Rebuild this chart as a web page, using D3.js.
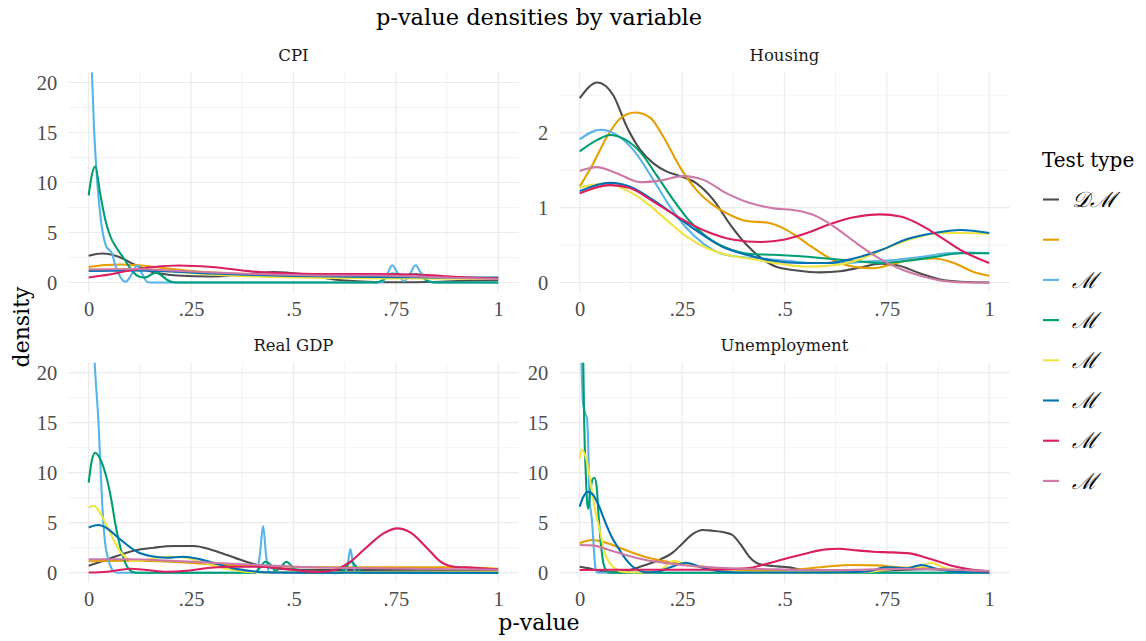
<!DOCTYPE html>
<html>
<head>
<meta charset="utf-8">
<script src="https://cdn.jsdelivr.net/npm/d3@7"></script>
<style>
  html, body { margin: 0; padding: 0; background: #ffffff; }
  svg { display: block; }
  text { font-family: "DejaVu Serif", serif; }
  text.num { font-family: "Liberation Serif", serif; }
</style>
</head>
<body>
<svg id="chart" width="1146" height="641"></svg>
<script>
// Test types (legend order) and their colours
const testTypes = ["\u{1D49F}\u2133", "", "\u2133", "\u2133", "\u2133", "\u2133", "\u2133", "\u2133"];
const testColors = ["#4D4D4D", "#E69F00", "#56B4E9", "#009E73", "#F0E442", "#0072B2", "#DB1E60", "#CC79A7"];

// Facet variables
const variables = ["CPI", "Housing", "Real GDP", "Unemployment"];

// Axis ticks
const xTicks = [0, 0.25, 0.5, 0.75, 1];
const xTickLabels = ["0", ".25", ".5", ".75", "1"];
const capTicks = [0, 5, 10, 15, 20];
const housingTicks = [0, 1, 2];
const densityCap = 20;

// Estimated densities, [p-value, density] per test type (same order as testTypes)
const cpiDensity = [
  [[0,2.67],[0.033,2.9],[0.073,2.57],[0.11,1.83],[0.142,1.23],[0.175,0.9],[0.216,0.7],[0.3,0.6],[0.37,0.75],[0.45,1.05],[0.52,0.85],[0.6,0.3],[0.68,0.08],[0.76,0.02],[0.83,0.05],[0.9,0.15],[1,0.25]],
  [[0,1.55],[0.04,1.75],[0.08,1.8],[0.12,1.72],[0.18,1.45],[0.25,1.15],[0.33,0.95],[0.4,0.8],[0.5,0.62],[0.6,0.55],[0.7,0.5],[0.8,0.48],[0.9,0.45],[1,0.4]],
  [[0,30],[0.005,24],[0.008,21],[0.013,15.5],[0.019,11.2],[0.03,6.2],[0.043,3.6],[0.057,2.9],[0.065,1.7],[0.077,0.57],[0.09,0.07],[0.106,0.9],[0.118,1.7],[0.13,0.9],[0.144,0.03],[0.16,0],[0.7,0],[0.717,0.06],[0.73,0.9],[0.741,1.73],[0.755,0.9],[0.77,0.13],[0.785,0.9],[0.798,1.73],[0.812,0.9],[0.826,0.23],[0.842,0],[1,0]],
  [[0,8.7],[0.008,10.8],[0.016,11.6],[0.028,8.9],[0.041,6.2],[0.053,4.6],[0.069,3.4],[0.086,2.4],[0.102,1.4],[0.118,0.7],[0.134,0.5],[0.142,0.55],[0.155,0.85],[0.165,0.99],[0.178,0.7],[0.192,0.25],[0.207,0.02],[0.22,0],[0.7,0],[0.72,0.3],[0.741,0.9],[0.77,0.75],[0.8,0.85],[0.815,0.5],[0.83,0.1],[0.845,0],[1,0]],
  [[0,1.3],[0.1,1.3],[0.2,1.1],[0.3,0.8],[0.4,0.6],[0.5,0.5],[0.6,0.45],[0.8,0.4],[1,0.35]],
  [[0,1.15],[0.1,1.2],[0.2,1.1],[0.3,0.9],[0.4,0.75],[0.5,0.65],[0.6,0.6],[0.7,0.55],[0.8,0.52],[0.9,0.5],[1,0.5]],
  [[0,0.5],[0.05,0.8],[0.1,1.2],[0.16,1.55],[0.22,1.7],[0.3,1.55],[0.4,1.1],[0.5,0.9],[0.6,0.85],[0.7,0.85],[0.8,0.8],[0.9,0.55],[1,0.4]],
  [[0,1.3],[0.1,1.35],[0.2,1.2],[0.3,1.0],[0.4,0.85],[0.5,0.75],[0.6,0.7],[0.7,0.7],[0.8,0.6],[0.9,0.45],[1,0.35]]
];

const housingDensity = [
  [[0,2.46],[0.043,2.67],[0.082,2.5],[0.115,2.08],[0.148,1.77],[0.18,1.59],[0.213,1.48],[0.245,1.42],[0.286,1.32],[0.327,1.1],[0.368,0.77],[0.408,0.5],[0.44,0.34],[0.48,0.21],[0.53,0.16],[0.588,0.135],[0.636,0.15],[0.685,0.2],[0.734,0.25],[0.775,0.23],[0.832,0.12],[0.88,0.04],[0.93,0.01],[1,0]],
  [[0,1.28],[0.033,1.59],[0.066,1.94],[0.099,2.19],[0.135,2.27],[0.172,2.2],[0.205,1.94],[0.245,1.54],[0.286,1.23],[0.327,1.03],[0.368,0.9],[0.408,0.82],[0.457,0.8],[0.506,0.7],[0.555,0.52],[0.612,0.32],[0.669,0.21],[0.718,0.19],[0.767,0.25],[0.816,0.31],[0.865,0.32],[0.914,0.26],[0.962,0.14],[1,0.09]],
  [[0,1.91],[0.05,2.04],[0.09,1.97],[0.131,1.77],[0.18,1.37],[0.221,1.01],[0.262,0.72],[0.302,0.52],[0.343,0.39],[0.392,0.34],[0.441,0.32],[0.506,0.29],[0.571,0.26],[0.636,0.26],[0.702,0.28],[0.767,0.3],[0.832,0.34],[0.897,0.39],[0.946,0.4],[1,0.39]],
  [[0,1.75],[0.042,1.9],[0.074,1.97],[0.107,1.92],[0.148,1.74],[0.188,1.43],[0.229,1.1],[0.27,0.81],[0.31,0.61],[0.359,0.46],[0.416,0.38],[0.474,0.37],[0.539,0.35],[0.604,0.32],[0.669,0.29],[0.734,0.26],[0.8,0.29],[0.865,0.34],[0.93,0.39],[1,0.39]],
  [[0,1.27],[0.066,1.32],[0.115,1.23],[0.164,1.06],[0.213,0.83],[0.262,0.61],[0.31,0.46],[0.359,0.37],[0.425,0.31],[0.49,0.25],[0.555,0.21],[0.62,0.23],[0.685,0.31],[0.75,0.46],[0.816,0.59],[0.88,0.66],[0.938,0.66],[1,0.65]],
  [[0,1.22],[0.074,1.33],[0.123,1.28],[0.18,1.1],[0.237,0.88],[0.294,0.66],[0.351,0.47],[0.408,0.37],[0.474,0.29],[0.539,0.26],[0.604,0.26],[0.669,0.32],[0.734,0.43],[0.8,0.58],[0.865,0.66],[0.93,0.7],[1,0.66]],
  [[0,1.19],[0.074,1.3],[0.123,1.26],[0.18,1.08],[0.245,0.86],[0.31,0.68],[0.376,0.57],[0.441,0.54],[0.498,0.57],[0.555,0.66],[0.612,0.78],[0.669,0.87],[0.734,0.91],[0.783,0.88],[0.832,0.77],[0.88,0.61],[0.938,0.41],[1,0.26]],
  [[0,1.49],[0.042,1.54],[0.09,1.46],[0.148,1.34],[0.196,1.36],[0.253,1.42],[0.302,1.37],[0.359,1.19],[0.416,1.06],[0.474,0.99],[0.53,0.96],[0.58,0.88],[0.628,0.72],[0.677,0.52],[0.726,0.34],[0.775,0.2],[0.832,0.09],[0.889,0.02],[0.946,0],[1,0]]
];

const gdpDensity = [
  [[0,0.7],[0.029,1.1],[0.069,1.67],[0.11,2.2],[0.159,2.5],[0.208,2.67],[0.257,2.67],[0.297,2.33],[0.338,1.77],[0.379,1.17],[0.419,0.7],[0.46,0.43],[0.517,0.3],[0.6,0.27],[0.68,0.27],[0.8,0.25],[0.9,0.22],[1,0.2]],
  [[0,1.15],[0.1,1.2],[0.2,1.1],[0.3,0.85],[0.4,0.7],[0.5,0.6],[0.6,0.55],[0.7,0.55],[0.8,0.55],[0.9,0.55],[1,0.4]],
  [[0,30],[0.008,26],[0.016,20],[0.024,15],[0.03,9.5],[0.035,5.5],[0.04,3],[0.048,1.3],[0.055,0.5],[0.062,0.1],[0.07,0],[0.4,0],[0.411,0.1],[0.418,1.8],[0.426,4.67],[0.433,1.8],[0.44,0.1],[0.45,0],[0.62,0],[0.627,0.1],[0.633,1.0],[0.639,2.37],[0.645,1.0],[0.651,0.1],[0.66,0],[1,0]],
  [[0,9.0],[0.008,11.3],[0.016,12],[0.029,11.3],[0.041,9.9],[0.049,8.6],[0.057,6.9],[0.065,4.9],[0.077,2.6],[0.09,0.93],[0.106,0.1],[0.12,0],[0.405,0],[0.418,0.5],[0.431,1.1],[0.444,0.8],[0.456,0.2],[0.47,0.6],[0.483,1.1],[0.497,0.6],[0.512,0.05],[0.525,0],[0.615,0],[0.628,0.6],[0.642,1.1],[0.655,0.5],[0.668,0.05],[0.68,0],[1,0]],
  [[0,6.5],[0.012,6.7],[0.029,5.9],[0.045,4.6],[0.061,3.3],[0.077,2.1],[0.094,1.43],[0.11,1.15],[0.134,1.25],[0.165,1.5],[0.191,1.6],[0.232,1.53],[0.273,1.1],[0.314,0.6],[0.354,0.27],[0.395,0.05],[0.45,0.03],[0.6,0.05],[0.8,0.08],[1,0.1]],
  [[0,4.53],[0.024,4.77],[0.045,4.43],[0.069,3.6],[0.094,2.77],[0.118,2.1],[0.151,1.67],[0.191,1.5],[0.232,1.6],[0.273,1.33],[0.314,0.87],[0.354,0.43],[0.395,0.17],[0.436,0.03],[0.5,0.01],[1,0]],
  [[0,0.02],[0.045,0.1],[0.102,0.4],[0.142,0.27],[0.191,0.1],[0.24,0.2],[0.297,0.5],[0.354,0.6],[0.411,0.6],[0.468,0.43],[0.517,0.2],[0.558,0.07],[0.6,0.27],[0.639,1.1],[0.68,2.6],[0.72,3.93],[0.753,4.43],[0.786,4.0],[0.827,2.43],[0.859,1.1],[0.892,0.6],[0.94,0.5],[1,0.33]],
  [[0,1.35],[0.1,1.35],[0.2,1.2],[0.3,1.0],[0.4,0.8],[0.5,0.6],[0.6,0.5],[0.7,0.45],[0.8,0.4],[0.9,0.35],[1,0.3]]
];

const unemploymentDensity = [
  [[0,0.6],[0.023,0.43],[0.047,0.2],[0.08,0.07],[0.112,0.17],[0.153,0.67],[0.194,1.27],[0.227,2.0],[0.251,2.93],[0.275,3.83],[0.3,4.27],[0.324,4.2],[0.357,4.0],[0.373,3.77],[0.394,2.77],[0.414,1.6],[0.438,0.87],[0.471,0.67],[0.512,0.53],[0.544,0.27],[0.6,0.1],[0.68,0.06],[0.75,0.2],[0.85,0.35],[0.95,0.1],[1,0.05]],
  [[0,2.95],[0.031,3.27],[0.064,3.0],[0.096,2.53],[0.129,2.0],[0.17,1.47],[0.218,1.07],[0.275,0.73],[0.34,0.43],[0.406,0.27],[0.479,0.2],[0.536,0.33],[0.6,0.6],[0.667,0.77],[0.724,0.73],[0.78,0.53],[0.846,0.43],[0.927,0.27],[1,0.13]],
  [[0,30],[0.004,22],[0.008,17],[0.013,16],[0.018,15.4],[0.021,12.5],[0.024,7.5],[0.027,6.2],[0.03,5.2],[0.034,2.8],[0.038,0.6],[0.042,0.05],[0.05,0],[1,0]],
  [[0,28],[0.005,25],[0.009,20.5],[0.011,15.1],[0.015,9.8],[0.018,7.1],[0.021,6.4],[0.025,7.8],[0.031,9.3],[0.036,9.5],[0.042,8.4],[0.046,5.8],[0.052,2.8],[0.058,0.93],[0.066,0.17],[0.075,0],[1,0]],
  [[0,11.4],[0.005,12.3],[0.013,11.8],[0.021,10.4],[0.029,8.4],[0.037,6.4],[0.046,4.8],[0.054,3.3],[0.062,1.93],[0.074,0.93],[0.086,0.43],[0.103,0.1],[0.13,0.02],[0.17,0.02],[0.195,0.2],[0.23,1.2],[0.26,0.8],[0.3,0.55],[0.35,0.2],[0.4,0.05],[0.5,0.03],[0.6,0.03],[0.7,0.05],[0.75,0.3],[0.8,0.5],[0.83,0.6],[0.858,1.0],[0.89,0.5],[0.95,0.1],[1,0]],
  [[0,6.6],[0.009,7.6],[0.021,8.1],[0.033,7.77],[0.046,6.77],[0.062,5.1],[0.078,3.6],[0.095,2.43],[0.111,1.43],[0.127,0.7],[0.143,0.27],[0.16,0.03],[0.19,0.1],[0.225,0.6],[0.259,1.0],[0.3,0.5],[0.35,0.1],[0.4,0.02],[0.6,0.02],[0.7,0.1],[0.748,0.53],[0.8,0.45],[0.834,0.77],[0.87,0.4],[0.92,0.1],[1,0]],
  [[0,0.27],[0.1,0.3],[0.2,0.3],[0.3,0.3],[0.357,0.33],[0.406,0.43],[0.455,0.87],[0.504,1.43],[0.553,1.93],[0.601,2.33],[0.634,2.4],[0.667,2.27],[0.716,2.1],[0.764,2.03],[0.805,1.93],[0.838,1.6],[0.87,1.2],[0.911,0.67],[0.952,0.33],[1,0.13]],
  [[0,2.77],[0.031,2.73],[0.072,2.27],[0.112,1.77],[0.161,1.27],[0.218,0.93],[0.275,0.67],[0.34,0.5],[0.406,0.4],[0.479,0.33],[0.56,0.27],[0.642,0.27],[0.724,0.33],[0.805,0.4],[0.887,0.33],[1,0.17]]
];

const panelData = [cpiDensity, housingDensity, gdpDensity, unemploymentDensity];

// ---- layout ----
const svg = d3.select("#chart");
const W = 1146, H = 641;
const colLeft = [68.2, 559.2];
const rowTop = [72.5, 362.7];
const panelW = 450.5, panelH = 220;
const gridColor = "#EBEBEB";
const tickTextColor = "#4D4D4D";

svg.append("rect").attr("width", W).attr("height", H).attr("fill", "#ffffff");

// Title
svg.append("text")
  .attr("x", 539).attr("y", 25)
  .attr("text-anchor", "middle")
  .attr("font-size", 22.5)
  .attr("fill", "#000")
  .text("p-value densities by variable");

const defs = svg.append("defs");
const line = d3.line().curve(d3.curveMonotoneX);

variables.forEach((name, i) => {
  const col = i % 2, row = Math.floor(i / 2);
  const x0 = colLeft[col], y0 = rowTop[row];
  const series = panelData[i];
  const free = name === "Housing";

  const x = d3.scaleLinear().domain([-0.05, 1.05]).range([x0, x0 + panelW]);
  const yMax = free ? d3.max(series, s => d3.max(s, d => d[1])) : densityCap;
  const y = d3.scaleLinear().domain([-0.05 * yMax, 1.05 * yMax]).range([y0 + panelH, y0]);
  const yTicks = free ? housingTicks : capTicks;
  const step = yTicks[1] - yTicks[0];
  const yMinor = yTicks.map(t => t + step / 2).filter(v => y(v) >= y0);
  const xMinor = xTicks.slice(0, -1).map((t, k) => (t + xTicks[k + 1]) / 2);

  const g = svg.append("g");

  // minor grid
  g.selectAll(".xmin").data(xMinor).join("line")
    .attr("x1", d => x(d)).attr("x2", d => x(d))
    .attr("y1", y0).attr("y2", y0 + panelH)
    .attr("stroke", gridColor).attr("stroke-width", 0.6);
  g.selectAll(".ymin").data(yMinor).join("line")
    .attr("x1", x0).attr("x2", x0 + panelW)
    .attr("y1", d => y(d)).attr("y2", d => y(d))
    .attr("stroke", gridColor).attr("stroke-width", 0.6);
  // major grid
  g.selectAll(".xmaj").data(xTicks).join("line")
    .attr("x1", d => x(d)).attr("x2", d => x(d))
    .attr("y1", y0).attr("y2", y0 + panelH)
    .attr("stroke", gridColor).attr("stroke-width", 1.2);
  g.selectAll(".ymaj").data(yTicks).join("line")
    .attr("x1", x0).attr("x2", x0 + panelW)
    .attr("y1", d => y(d)).attr("y2", d => y(d))
    .attr("stroke", gridColor).attr("stroke-width", 1.2);

  // axes (labels only, no axis lines or tick marks)
  const xAxis = g.append("g")
    .attr("transform", `translate(0,${y0 + panelH})`)
    .call(d3.axisBottom(x).tickValues(xTicks).tickFormat((d, k) => xTickLabels[k]).tickSize(0).tickPadding(16));
  const yAxis = g.append("g")
    .attr("transform", `translate(${x0},0)`)
    .call(d3.axisLeft(y).tickValues(yTicks).tickFormat(d3.format("d")).tickSize(0).tickPadding(11));
  [xAxis, yAxis].forEach(a => {
    a.attr("font-family", null).attr("font-size", null);
    a.select(".domain").remove();
    a.selectAll("text")
      .attr("class", "num")
      .style("font-family", "'Liberation Serif', serif")
      .attr("font-size", 20.5)
      .attr("fill", tickTextColor);
  });
  xAxis.selectAll("text").attr("dy", "0.35em");

  // strip label
  svg.append("text")
    .attr("x", x0 + panelW / 2).attr("y", y0 - 12)
    .attr("text-anchor", "middle")
    .attr("font-size", 16.5)
    .attr("fill", "#1A1A1A")
    .text(name);

  // density lines, clipped to the panel
  const clipId = "clip" + i;
  defs.append("clipPath").attr("id", clipId)
    .append("rect").attr("x", x0).attr("y", y0).attr("width", panelW).attr("height", panelH);
  line.x(d => x(d[0])).y(d => y(d[1]));
  g.append("g").attr("clip-path", `url(#${clipId})`)
    .selectAll("path").data(series).join("path")
    .attr("d", d => line(d))
    .attr("fill", "none")
    .attr("stroke", (d, k) => testColors[k])
    .attr("stroke-width", 2.1)
    .attr("stroke-linejoin", "round");
});

// axis titles
svg.append("text")
  .attr("x", 539).attr("y", 630)
  .attr("text-anchor", "middle")
  .attr("font-size", 22)
  .attr("fill", "#000")
  .text("p-value");
svg.append("text")
  .attr("transform", "translate(29,327) rotate(-90)")
  .attr("text-anchor", "middle")
  .attr("font-size", 22)
  .attr("fill", "#000")
  .text("density");

// legend
const legend = svg.append("g");
legend.append("text")
  .attr("x", 1042).attr("y", 167)
  .attr("font-size", 20)
  .attr("fill", "#000")
  .text("Test type");
const legendRows = legend.selectAll(".row").data(testTypes).join("g")
  .attr("transform", (d, k) => `translate(1043,${199.5 + k * 40.2})`);
legendRows.append("line")
  .attr("x1", 0).attr("x2", 16).attr("y1", 0).attr("y2", 0)
  .attr("stroke", (d, k) => testColors[k])
  .attr("stroke-width", 2.1);
legendRows.append("text")
  .attr("x", 29).attr("y", 0).attr("dy", "0.35em")
  .attr("font-size", 22)
  .attr("font-style", "italic")
  .attr("fill", "#000")
  .text(d => d);
</script>
</body>
</html>
